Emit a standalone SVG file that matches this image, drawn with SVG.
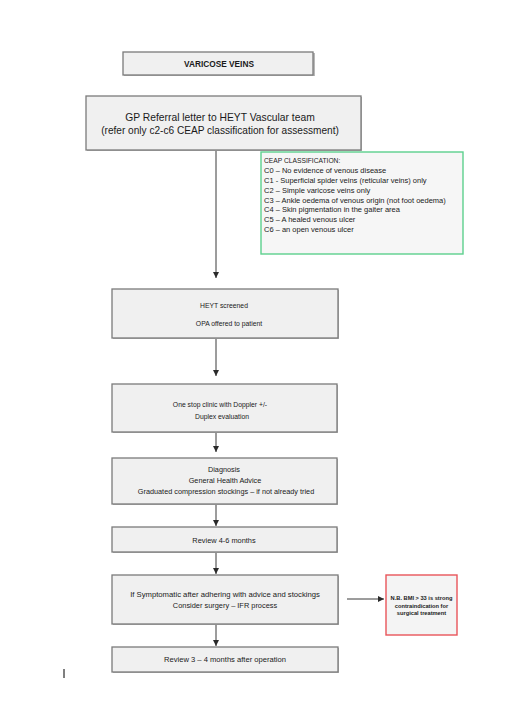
<svg xmlns="http://www.w3.org/2000/svg" width="511" height="715" viewBox="0 0 511 715">
  <style>
    .box { fill: #f0f0f0; stroke: #7a7a7a; stroke-width: 1.3; }
    .shadow { fill: #b8b8b8; }
    .t { font-family: "Liberation Sans", Arial, sans-serif; fill: #1a1a1a; text-anchor: middle; }
    .l { font-family: "Liberation Sans", Arial, sans-serif; fill: #1a1a1a; }
    .conn { stroke: #3a3a3a; stroke-width: 1; fill: none; marker-end: url(#arr); }
  </style>
  <defs>
    <marker id="arr" viewBox="0 0 6 6" refX="6" refY="3" markerWidth="6" markerHeight="6" markerUnits="userSpaceOnUse" orient="auto">
      <path d="M0,0 L6,3 L0,6 Z" fill="#2a2a2a"/>
    </marker>
  </defs>
  <rect width="511" height="715" fill="#ffffff"/>

  <g id="connectors">
    <line class="conn" x1="216" y1="150" x2="216" y2="278"/>
    <line class="conn" x1="216" y1="338" x2="216" y2="376"/>
    <line class="conn" x1="216" y1="432" x2="216" y2="452"/>
    <line class="conn" x1="216" y1="504" x2="216" y2="526"/>
    <line class="conn" x1="216" y1="552" x2="216" y2="574"/>
    <line class="conn" x1="216" y1="624" x2="216" y2="646"/>
    <line class="conn" x1="347" y1="599" x2="384" y2="599"/>
  </g>

  <g id="varicose">
    <rect class="shadow" x="124" y="53" width="191" height="23"/>
    <rect class="box" x="123" y="52" width="190" height="23"/>
    <text class="t" x="219" y="66.8" font-size="8.3" font-weight="bold">VARICOSE VEINS</text>
  </g>

  <g id="gp">
    <rect class="shadow" x="87" y="97" width="275" height="54"/>
    <rect class="box" x="86" y="96" width="275" height="54"/>
    <text class="t" x="220" y="120.5" font-size="10.3">GP Referral letter to HEYT Vascular team</text>
    <text class="t" x="220" y="133.5" font-size="10.1">(refer only c2-c6 CEAP classification for assessment)</text>
  </g>

  <g id="ceap">
    <rect x="261" y="152" width="202" height="102" fill="#f6f6f6" stroke="#5dd08e" stroke-width="1.4"/>
    <text class="l" x="264" y="163" font-size="6.7">CEAP CLASSIFICATION:</text>
    <text class="l" x="264" y="173" font-size="7.5">C0 – No evidence of venous disease</text>
    <text class="l" x="264" y="183" font-size="7.5">C1 -  Superficial spider veins (reticular veins) only</text>
    <text class="l" x="264" y="193" font-size="7.5">C2 – Simple varicose veins only</text>
    <text class="l" x="264" y="202.5" font-size="7.5">C3 – Ankle oedema of venous origin (not foot  oedema)</text>
    <text class="l" x="264" y="212" font-size="7.5">C4 – Skin pigmentation in the gaiter area</text>
    <text class="l" x="264" y="222" font-size="7.5">C5 – A healed venous ulcer</text>
    <text class="l" x="264" y="232" font-size="7.5">C6 – an open venous ulcer</text>
  </g>

  <g id="heyt">
    <rect class="shadow" x="113" y="290" width="226" height="49"/>
    <rect class="box" x="112" y="289" width="226" height="49"/>
    <text class="t" x="224" y="307.5" font-size="6.8">HEYT screened</text>
    <text class="t" x="229" y="325.5" font-size="6.8">OPA offered to patient</text>
  </g>

  <g id="onestop">
    <rect class="shadow" x="113" y="385" width="225" height="48"/>
    <rect class="box" x="112" y="384" width="225" height="48"/>
    <text class="t" x="220" y="407" font-size="6.8">One stop clinic with Doppler +/-</text>
    <text class="t" x="222" y="419" font-size="6.8">Duplex evaluation</text>
  </g>

  <g id="diagnosis">
    <rect class="shadow" x="113" y="459" width="225" height="46"/>
    <rect class="box" x="112" y="458" width="225" height="46"/>
    <text class="t" x="224" y="472" font-size="7.3">Diagnosis</text>
    <text class="t" x="225" y="483" font-size="7.3">General Health Advice</text>
    <text class="t" x="226" y="493.5" font-size="7.3">Graduated compression stockings – if not already tried</text>
  </g>

  <g id="review46">
    <rect class="shadow" x="113" y="528" width="225" height="25"/>
    <rect class="box" x="112" y="527" width="225" height="25"/>
    <text class="t" x="224" y="542.5" font-size="7.4">Review 4-6 months</text>
  </g>

  <g id="symptomatic">
    <rect class="shadow" x="113" y="576" width="226" height="49"/>
    <rect class="box" x="112" y="575" width="226" height="49"/>
    <text class="t" x="225" y="596.5" font-size="7.7">If Symptomatic after adhering with advice and stockings</text>
    <text class="t" x="225" y="607.5" font-size="7.4">Consider surgery – IFR process</text>
  </g>

  <g id="review34">
    <rect class="shadow" x="113" y="648" width="226" height="25"/>
    <rect class="box" x="112" y="647" width="226" height="25"/>
    <text class="t" x="225" y="661.5" font-size="7.6">Review 3 – 4 months after operation</text>
  </g>

  <g id="bmi">
    <rect x="386" y="575" width="71" height="60" fill="#f4f4f4" stroke="#e8555a" stroke-width="1.4"/>
    <text class="t" x="421.5" y="600" font-size="5.7" font-weight="bold">N.B. BMI &gt; 33 is strong</text>
    <text class="t" x="421.5" y="607.5" font-size="5.7" font-weight="bold">contraindication for</text>
    <text class="t" x="421.5" y="615" font-size="5.7" font-weight="bold">surgical treatment</text>
  </g>

  <line x1="64" y1="669" x2="64" y2="678" stroke="#000" stroke-width="1"/>
</svg>
